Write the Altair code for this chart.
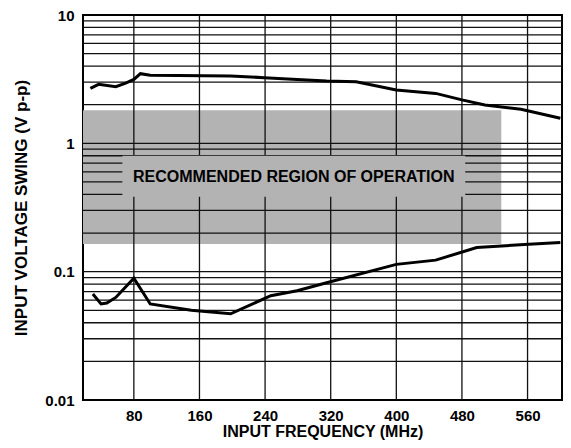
import altair as alt
import pandas as pd

# Upper curve (max input swing)
upper_freq = [27, 37, 58, 70, 80, 88, 100, 198, 239, 279, 315, 351, 400, 448, 480, 508, 552, 600]
upper_v = [2.68, 2.88, 2.76, 2.94, 3.15, 3.49, 3.39, 3.35, 3.25, 3.15, 3.06, 3.02, 2.60, 2.45, 2.18, 1.99, 1.84, 1.57]

# Lower curve (min input swing)
lower_freq = [30, 40, 47, 58, 80, 100, 150, 198, 247, 279, 315, 400, 448, 498, 556, 600]
lower_v = [0.067, 0.056, 0.057, 0.063, 0.089, 0.056, 0.050, 0.047, 0.065, 0.071, 0.082, 0.114, 0.123, 0.154, 0.163, 0.169]

# Recommended region
region_freq = [18, 528]
region_v = [0.164, 1.81]
region_label = "RECOMMENDED REGION OF OPERATION"
label_box_freq = [66, 484]
label_box_v = [0.384, 0.80]
label_pos = [275, 0.55]

# Grid / ticks
x_ticks = [80, 160, 240, 320, 400, 480, 560]
y_ticks = [0.01, 0.1, 1, 10]
y_grid = [0.02, 0.03, 0.04, 0.05, 0.06, 0.07, 0.08, 0.09, 0.1,
          0.2, 0.3, 0.4, 0.5, 0.6, 0.7, 0.8, 0.9, 1,
          2, 3, 4, 5, 6, 7, 8, 9]

GRAY = "#b3b3b3"
FONT = "Liberation Sans"

xs = alt.Scale(domain=[18, 602], nice=False, zero=False)
ys = alt.Scale(type="log", domain=[0.01, 10], nice=False)

x_axis = alt.Axis(values=x_ticks, title="INPUT FREQUENCY (MHz)",
                  grid=False, ticks=False, domain=False,
                  labelPadding=8, titlePadding=0, titleFontSize=16)
y_axis = alt.Axis(values=y_ticks, format="~g", title="INPUT VOLTAGE SWING (V p-p)",
                  grid=False, ticks=False, domain=False,
                  labelPadding=9, titlePadding=14, titleFontSize=17)

curves = pd.concat([
    pd.DataFrame({"freq": upper_freq, "v": upper_v, "series": "upper"}),
    pd.DataFrame({"freq": lower_freq, "v": lower_v, "series": "lower"}),
])

region_df = pd.DataFrame({"x1": [region_freq[0]], "x2": [region_freq[1]],
                          "y1": [region_v[0]], "y2": [region_v[1]]})
box_df = pd.DataFrame({"x1": [label_box_freq[0]], "x2": [label_box_freq[1]],
                       "y1": [label_box_v[0]], "y2": [label_box_v[1]]})
label_df = pd.DataFrame({"x": [label_pos[0]], "y": [label_pos[1]], "t": [region_label]})
hgrid_df = pd.DataFrame({"y": y_grid})
vgrid_df = pd.DataFrame({"x": x_ticks})

region = alt.Chart(region_df).mark_rect(color=GRAY).encode(
    x=alt.X("x1:Q", scale=xs, axis=x_axis), x2="x2",
    y=alt.Y("y1:Q", scale=ys, axis=y_axis), y2="y2")

hgrid = alt.Chart(hgrid_df).mark_rule(color="#111111", strokeWidth=1.3).encode(
    y=alt.Y("y:Q", scale=ys, axis=y_axis))

vgrid = alt.Chart(vgrid_df).mark_rule(color="#111111", strokeWidth=1.3).encode(
    x=alt.X("x:Q", scale=xs, axis=x_axis))

box = alt.Chart(box_df).mark_rect(color=GRAY).encode(
    x=alt.X("x1:Q", scale=xs, axis=x_axis), x2="x2",
    y=alt.Y("y1:Q", scale=ys, axis=y_axis), y2="y2")

label = alt.Chart(label_df).mark_text(
    font=FONT, fontSize=16, fontWeight="bold", color="black",
    align="center", baseline="middle").encode(
    x=alt.X("x:Q", scale=xs, axis=x_axis),
    y=alt.Y("y:Q", scale=ys, axis=y_axis),
    text="t:N")

lines = alt.Chart(curves).mark_line(color="black", strokeWidth=3).encode(
    x=alt.X("freq:Q", scale=xs, axis=x_axis),
    y=alt.Y("v:Q", scale=ys, axis=y_axis),
    detail="series:N")

chart = alt.layer(region, hgrid, vgrid, box, label, lines).properties(
    width=479, height=385,
    autosize=alt.AutoSizeParams(type="none"),
    padding={"left": 75, "top": 7, "right": 1, "bottom": 40},
).configure_view(stroke="black", strokeWidth=2).configure_axis(
    labelFont=FONT, labelFontSize=15, labelFontWeight="bold", labelColor="black",
    titleFont=FONT, titleFontWeight="bold", titleColor="black",
)

chart.save("out.html", embed_options={"renderer": "svg", "actions": False})
